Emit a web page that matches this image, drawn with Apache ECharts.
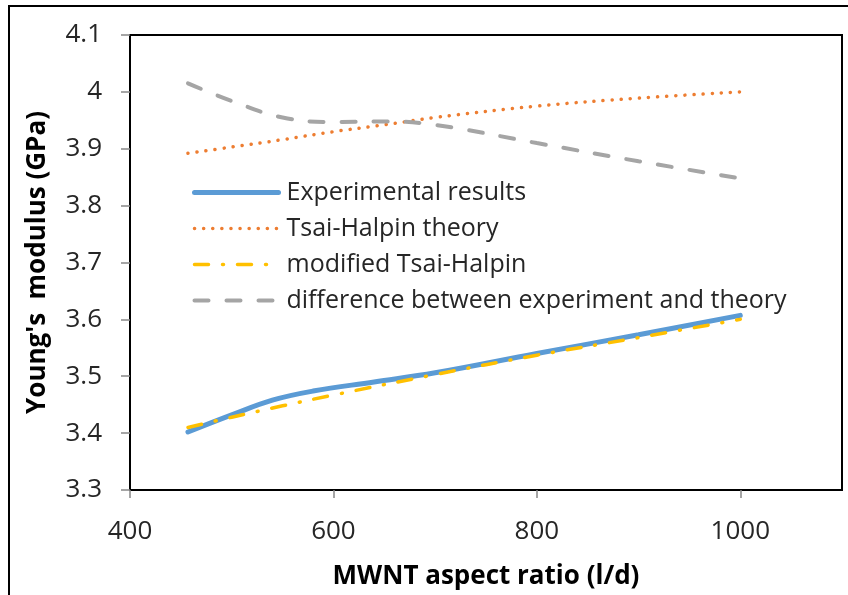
<!DOCTYPE html>
<html><head><meta charset="utf-8">
<script src="https://cdn.jsdelivr.net/npm/echarts@6/dist/echarts.min.js"></script>
<style>html,body{margin:0;padding:0;background:#fff}#c{width:848px;height:595px}</style>
</head><body><div id="c"></div>
<script>
const seriesNames = ['Experimental results','Tsai-Halpin theory','modified Tsai-Halpin','difference between experiment and theory'];
const experimental = [[457,3.402],[500,3.432],[540,3.458],[580,3.474],[640,3.490],[700,3.506],[800,3.540],[900,3.573],[1000,3.607]];
const tsaiHalpin = [[457,3.892],[500,3.903],[550,3.916],[600,3.930],[650,3.942],[700,3.955],[800,3.975],[900,3.989],[1000,4.000]];
const modified = [[457,3.410],[500,3.428],[550,3.448],[600,3.467],[700,3.503],[800,3.537],[900,3.568],[1000,3.600]];
const difference = [[457,4.015],[500,3.984],[550,3.955],[600,3.947],[650,3.948],[700,3.942],[800,3.910],[900,3.878],[1000,3.848]];
const xTicks = {min:400, max:1100, interval:200};
const yTicks = {min:3.3, max:4.1, interval:0.1};

const font = 'Open Sans';
const styles = [
  {color:'#5b9bd5', width:5, type:'solid'},
  {color:'#ed7d31', width:3.5, type:[0.1,9]},
  {color:'#ffc000', width:3.5, type:[14,14,1,14]},
  {color:'#a5a5a5', width:4, type:[14,18]}
];
const dataSets = [experimental, tsaiHalpin, modified, difference];
const chart = echarts.init(document.getElementById('c'));
chart.setOption({
  animation:false,
  graphic:[{type:'rect', shape:{x:9,y:6,width:900,height:700}, style:{fill:'none', stroke:'#000', lineWidth:2}}],
  grid:{left:130, top:35, right:6, bottom:105, show:true, borderColor:'#000', borderWidth:2, backgroundColor:'transparent'},
  legend:{orient:'vertical', left:192, top:180, padding:0, itemWidth:84, itemHeight:14, itemGap:11,
    itemStyle:{opacity:0},
    textStyle:{fontFamily:font, fontSize:25, color:'#262626', padding:[0,0,0,3]},
    data:seriesNames.map((n,i)=>({name:n, lineStyle:{width:styles[i].width, type:styles[i].type, cap:'round'}}))},
  xAxis:{type:'value', min:xTicks.min, max:xTicks.max, interval:xTicks.interval,
    name:'MWNT aspect ratio (l/d)', nameLocation:'middle', nameGap:74,
    nameTextStyle:{fontFamily:font, fontSize:26, fontWeight:'bold', color:'#000'},
    axisLine:{lineStyle:{color:'#000', width:2}},
    axisTick:{show:true, length:8, lineStyle:{color:'#888', width:1.5}},
    axisLabel:{fontFamily:font, fontSize:26, color:'#262626', margin:29, showMaxLabel:false,
      formatter:v=>String(v)},
    splitLine:{show:false}},
  yAxis:{type:'value', min:yTicks.min, max:yTicks.max, interval:yTicks.interval,
    name:"Young's  modulus (GPa)", nameLocation:'middle', nameGap:79,
    nameTextStyle:{fontFamily:font, fontSize:26, fontWeight:'bold', color:'#000'},
    axisLine:{show:true, lineStyle:{color:'#000', width:2}},
    axisTick:{show:true, length:9, lineStyle:{color:'#888', width:1.5}},
    axisLabel:{fontFamily:font, fontSize:26, color:'#262626', margin:28,
      formatter:v=>String(Math.round(v*10)/10)},
    splitLine:{show:false}},
  series:seriesNames.map((n,i)=>({
    name:n, type:'line', data:dataSets[i], smooth:0.4, symbol:'none',
    lineStyle:{color:styles[i].color, width:styles[i].width, type:styles[i].type, cap:'round'},
    itemStyle:{color:styles[i].color}, z:[2,1,3,1][i]
  }))
});
</script></body></html>
